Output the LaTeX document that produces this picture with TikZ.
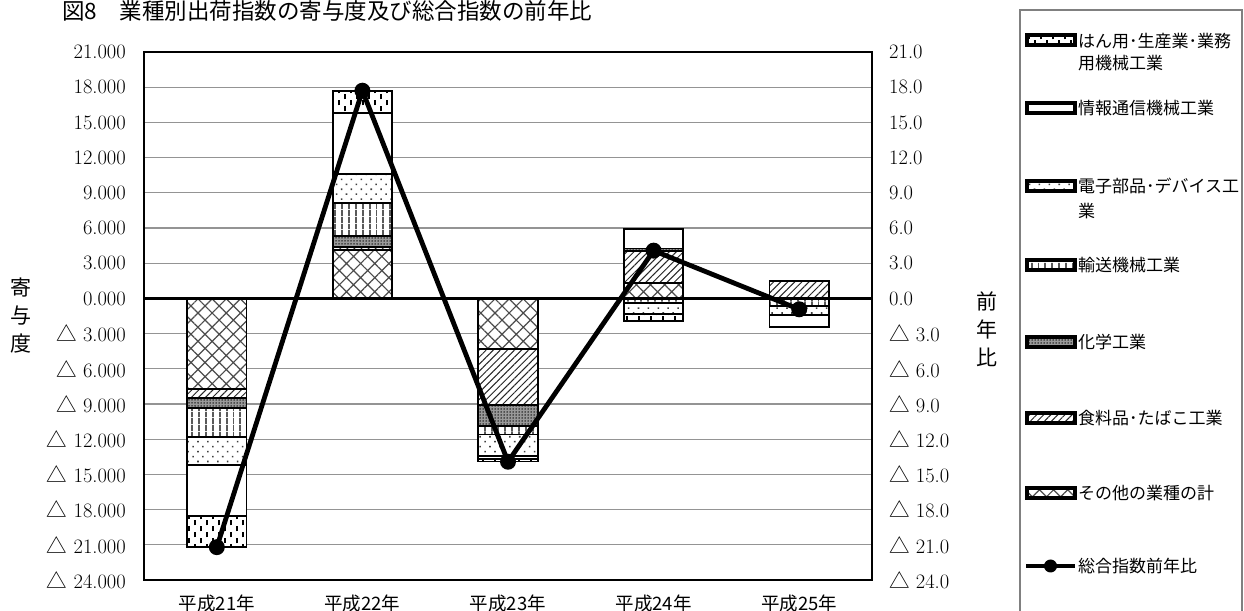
\documentclass[tikz,border=0pt]{standalone}
\usepackage{fontspec}
\newfontfamily\cjk{Noto Sans CJK JP}
\usetikzlibrary{patterns,patterns.meta}
\pgfdeclarepatternformonly{vdash}{\pgfpoint{-1pt}{-1pt}}{\pgfpoint{13pt}{13pt}}{\pgfpoint{12pt}{12pt}}{%
  \pgfsetlinewidth{1.5pt}%
  \pgfpathmoveto{\pgfpoint{3pt}{0.5pt}}\pgfpathlineto{\pgfpoint{3pt}{5.5pt}}%
  \pgfpathmoveto{\pgfpoint{9pt}{6.5pt}}\pgfpathlineto{\pgfpoint{9pt}{11.5pt}}%
  \pgfusepath{stroke}}
\newcommand\tri{{\cjk △}\ }
\newcommand\bseg[4]{\path[#1] ({#2-29.7},#3) rectangle ({#2+29.7},#4);}
\begin{document}
\begin{tikzpicture}[x=1pt,y=1pt,
  gridln/.style={draw=black!42,line width=1.2pt},
  framebox/.style={draw=black,line width=2.6pt},
  zeroln/.style={draw=black,line width=3.2pt},
  bsegst/.style={draw=black,line width=1.9pt},
  sOther/.style={bsegst,preaction={fill=white},pattern={Hatch[angle=45,distance=10pt,line width=1.2pt]},pattern color=black!70},
  sFood/.style={bsegst,preaction={fill=white},pattern={Lines[angle=45,distance=5pt,line width=1pt]},pattern color=black!85},
  sChem/.style={bsegst,preaction={fill=black!40},pattern={Dots[distance=3pt,radius=0.75pt]},pattern color=black},
  sTrans/.style={bsegst,preaction={fill=white},pattern={Lines[angle=90,distance=6.5pt,line width=1.4pt]},pattern color=black},
  sElec/.style={bsegst,preaction={fill=white},pattern={Dots[angle=45,distance=7pt,radius=1.1pt]},pattern color=black!75},
  sInfo/.style={bsegst,fill=white},
  sGen/.style={bsegst,preaction={fill=white},pattern=vdash,pattern color=black},
  ticklbl/.style={inner sep=0pt,font=\fontsize{20.5}{20.5}\selectfont},
  catlbl/.style={inner sep=0pt,font=\cjk\fontsize{18.5}{18.5}\selectfont},
  axtitle/.style={inner sep=0pt,align=center,font=\cjk\fontsize{21}{28}\selectfont},
  legtxt/.style={anchor=west,inner sep=0pt,font=\cjk\fontsize{17}{17}\selectfont},
  legsw/.style={line width=3.2pt},
  serline/.style={draw=black,line width=4.8pt,line join=round},
  dot/.style={circle,fill=black,inner sep=0pt,minimum size=16pt}]
\useasboundingbox (0,0) rectangle (1244,610);
\fill[white] (0,0) rectangle (1244,610);
\node[anchor=west,inner sep=0pt,font=\cjk\fontsize{22.5}{22.5}\selectfont] (title) at (62,599) {図8　業種別出荷指数の寄与度及び総合指数の前年比};

\begin{scope}[shift={(0,311.6)},y=11.733pt]
  \foreach \v in {-21,-18,...,18} {\draw[gridln] (144,\v) -- (872,\v);}
  % bar 1
  \bseg{sOther}{216.8}{0}{-7.75}
  \bseg{sFood}{216.8}{-7.75}{-8.52}
  \bseg{sChem}{216.8}{-8.52}{-9.37}
  \bseg{sTrans}{216.8}{-9.37}{-11.79}
  \bseg{sElec}{216.8}{-11.79}{-14.2}
  \bseg{sInfo}{216.8}{-14.2}{-18.55}
  \bseg{sGen}{216.8}{-18.55}{-21.2}
  % bar 2
  \bseg{sOther}{362.4}{0}{4.12}
  \bseg{sFood}{362.4}{4.12}{4.35}
  \bseg{sChem}{362.4}{4.35}{5.32}
  \bseg{sTrans}{362.4}{5.32}{8.16}
  \bseg{sElec}{362.4}{8.16}{10.6}
  \bseg{sInfo}{362.4}{10.6}{15.8}
  \bseg{sGen}{362.4}{15.8}{17.7}
  % bar 3
  \bseg{sOther}{508}{0}{-4.3}
  \bseg{sFood}{508}{-4.3}{-9.1}
  \bseg{sChem}{508}{-9.1}{-10.85}
  \bseg{sTrans}{508}{-10.85}{-11.6}
  \bseg{sElec}{508}{-11.6}{-13.4}
  \bseg{sInfo}{508}{-13.4}{-13.65}
  \bseg{sGen}{508}{-13.65}{-13.9}
  % bar 4
  \bseg{sOther}{653.6}{0}{1.33}
  \bseg{sFood}{653.6}{1.33}{4.05}
  \bseg{sChem}{653.6}{4.05}{4.25}
  \bseg{sInfo}{653.6}{4.25}{5.9}
  \bseg{sTrans}{653.6}{0}{-0.37}
  \bseg{sElec}{653.6}{-0.37}{-1.36}
  \bseg{sGen}{653.6}{-1.36}{-1.9}
  % bar 5
  \bseg{sFood}{799.2}{0}{1.5}
  \bseg{sTrans}{799.2}{0}{-0.65}
  \bseg{sElec}{799.2}{-0.65}{-1.42}
  \bseg{sInfo}{799.2}{-1.42}{-2.41}
  % zero line and frame
  \draw[zeroln] (144,0) -- (872,0);
  \draw[framebox] (144,-24) rectangle (872,21);
  % tick labels
  \foreach \v/\l/\r in {21/21.000/21.0,18/18.000/18.0,15/15.000/15.0,12/12.000/12.0,9/9.000/9.0,6/6.000/6.0,3/3.000/3.0,0/0.000/0.0,
     -3/{\tri 3.000}/{\tri 3.0},-6/{\tri 6.000}/{\tri 6.0},-9/{\tri 9.000}/{\tri 9.0},-12/{\tri 12.000}/{\tri 12.0},
     -15/{\tri 15.000}/{\tri 15.0},-18/{\tri 18.000}/{\tri 18.0},-21/{\tri 21.000}/{\tri 21.0},-24/{\tri 24.000}/{\tri 24.0}} {
    \node[ticklbl,anchor=east] (yl\v) at (126,\v) {\l};
    \node[ticklbl,anchor=west] (yr\v) at (889,\v) {\r};
  }
  % series line
  \coordinate (p1) at (216.8,-21.2);
  \coordinate (p2) at (362.4,17.7);
  \coordinate (p3) at (508,-13.92);
  \coordinate (p4) at (653.6,4.07);
  \coordinate (p5) at (799.2,-0.93);
  \draw[serline] (p1) -- (p2) -- (p3) -- (p4) -- (p5);
  \foreach \i in {1,...,5} {\node[dot] (d\i) at (p\i) {};}
\end{scope}

% category labels
\node[catlbl] (c1) at (216.8,7) {平成21年};
\node[catlbl] (c2) at (362.4,7) {平成22年};
\node[catlbl] (c3) at (508,7) {平成23年};
\node[catlbl] (c4) at (653.6,7) {平成24年};
\node[catlbl] (c5) at (799.2,7) {平成25年};

% axis titles
\node[axtitle] (ltitle) at (21,294) {寄\\与\\度};
\node[axtitle] (rtitle) at (987,281) {前\\年\\比};

% legend
\draw[draw=black!50,line width=1.2pt] (1020,-20) rectangle (1242,600);
\path[sGen,legsw] (1027,565) rectangle (1075,575);
\node[legtxt] (lg1a) at (1078,569) {はん用･生産業･業務};
\node[legtxt] (lg1b) at (1078,547) {用機械工業};
\path[sInfo,legsw] (1027,497) rectangle (1075,507);
\node[legtxt] (lg2) at (1078,502) {情報通信機械工業};
\path[sElec,legsw] (1027,419) rectangle (1075,429);
\node[legtxt] (lg3a) at (1078,424) {電子部品･デバイス工};
\node[legtxt] (lg3b) at (1078,399) {業};
\path[sTrans,legsw] (1027,340) rectangle (1075,350);
\node[legtxt] (lg4) at (1078,345) {輸送機械工業};
\path[sChem,legsw] (1027,263) rectangle (1075,273);
\node[legtxt] (lg5) at (1078,268) {化学工業};
\path[sFood,legsw] (1027,187) rectangle (1075,197);
\node[legtxt] (lg6) at (1078,192) {食料品･たばこ工業};
\path[sOther,legsw] (1027,112) rectangle (1075,122);
\node[legtxt] (lg7) at (1078,117) {その他の業種の計};
\coordinate (la) at (1026,44);
\coordinate (lb) at (1075,44);
\draw[serline,line width=4pt] (la) -- (lb);
\node[dot,minimum size=13pt] (ldot) at (1050.5,44) {};
\node[legtxt] (lg8) at (1078,44) {総合指数前年比};
\end{tikzpicture}
\end{document}
